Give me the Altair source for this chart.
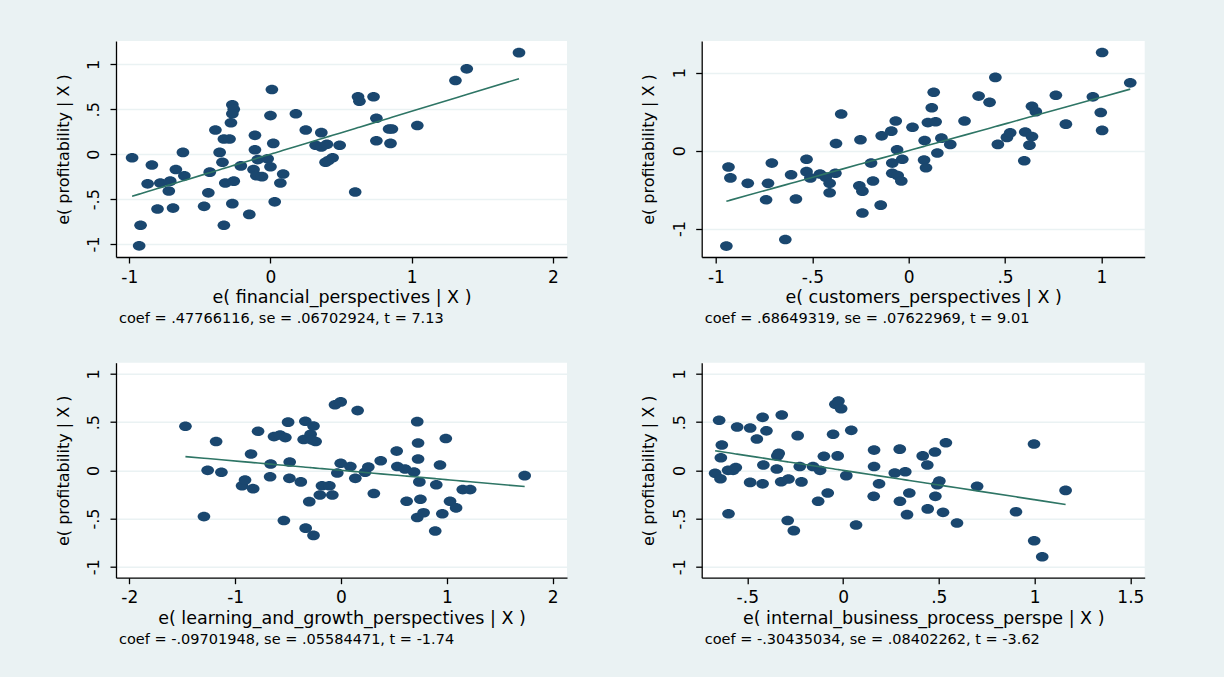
import altair as alt
import pandas as pd

# Added-variable plots: residual profitability against the residual of each
# balanced-scorecard perspective, with the partial regression line.

Y_TITLE = "e( profitability | X )"

FIN_X = [-0.98, -0.92, -0.93, -0.84, -0.87, -0.80, -0.78, -0.71, -0.72, -0.69, -0.67, -0.62, -0.61,
         -0.47, -0.44, -0.43, -0.39, -0.36, -0.34, -0.33, -0.29, -0.32, -0.33, -0.28, -0.27, -0.26,
         -0.27, -0.26, -0.27, -0.21, -0.15, -0.11, -0.11, -0.12, -0.10, -0.06, -0.09, -0.02, 0.00,
         0.01, 0.00, 0.02, 0.03, 0.07, 0.09, 0.18, 0.25, 0.32, 0.36, 0.36, 0.40, 0.39, 0.41, 0.44,
         0.49, 0.60, 0.62, 0.63, 0.73, 0.75, 0.75, 0.84, 0.86, 0.85, 1.04, 1.31, 1.39, 1.76]
FIN_Y = [-0.04, -0.79, -1.02, -0.12, -0.33, -0.61, -0.32, -0.30, -0.41, -0.60, -0.17, 0.02, -0.24,
         -0.58, -0.43, -0.20, 0.27, 0.02, -0.09, 0.17, 0.17, -0.32, -0.79, 0.35, 0.55, 0.50, 0.45,
         -0.30, -0.55, -0.13, -0.67, 0.21, 0.05, -0.17, -0.24, -0.25, -0.06, -0.05, -0.14, 0.72,
         0.43, 0.12, -0.53, -0.32, -0.22, 0.45, 0.27, 0.10, 0.24, 0.08, 0.11, -0.09, -0.07, -0.04,
         0.10, -0.42, 0.64, 0.59, 0.64, 0.40, 0.15, 0.28, 0.28, 0.12, 0.32, 0.82, 0.95, 1.13]

CUST_X = [-0.946, -0.935, -0.925, -0.835, -0.74, -0.73, -0.71, -0.64, -0.61, -0.585, -0.53, -0.53,
          -0.51, -0.46, -0.43, -0.41, -0.41, -0.38, -0.377, -0.35, -0.256, -0.24, -0.24, -0.25,
          -0.195, -0.185, -0.145, -0.14, -0.09, -0.085, -0.085, -0.057, -0.038, -0.067, -0.06,
          -0.033, 0.02, 0.08, 0.083, 0.09, 0.10, 0.12, 0.13, 0.14, 0.149, 0.17, 0.216, 0.29, 0.363,
          0.42, 0.45, 0.463, 0.51, 0.527, 0.60, 0.605, 0.627, 0.64, 0.64, 0.66, 0.764, 0.816, 0.956,
          0.997, 1.004, 1.004, 1.15]
CUST_Y = [-1.225, -0.21, -0.35, -0.42, -0.63, -0.42, -0.16, -1.14, -0.31, -0.62, -0.11, -0.27,
          -0.35, -0.30, -0.34, -0.42, -0.54, -0.29, 0.09, 0.47, -0.45, -0.52, -0.80, 0.14, -0.16,
          -0.39, -0.70, 0.19, 0.25, -0.16, -0.29, -0.32, -0.39, 0.38, 0.01, -0.11, 0.30, -0.12,
          0.13, -0.22, 0.36, 0.55, 0.75, 0.37, -0.03, 0.16, 0.08, 0.38, 0.70, 0.62, 0.94, 0.08,
          0.17, 0.23, -0.13, 0.24, 0.07, 0.18, 0.57, 0.50, 0.71, 0.34, 0.69, 0.49, 0.26, 1.26, 0.87]

LEARN_X = [-1.47, -1.295, -1.26, -1.18, -1.13, -0.935, -0.907, -0.85, -0.83, -0.784, -0.67, -0.665,
           -0.633, -0.576, -0.526, -0.54, -0.50, -0.485, -0.488, -0.38, -0.337, -0.334, -0.353,
           -0.30, -0.287, -0.26, -0.26, -0.24, -0.274, -0.20, -0.18, -0.11, -0.082, -0.057,
           -0.003, -0.035, -0.003, 0.088, 0.135, 0.157, 0.227, 0.258, 0.31, 0.375, 0.526, 0.532,
           0.605, 0.62, 0.69, 0.72, 0.728, 0.728, 0.74, 0.75, 0.72, 0.78, 0.89, 0.90, 0.935, 0.957,
           0.99, 1.03, 1.087, 1.15, 1.22, 1.735]
LEARN_Y = [0.457, -0.48, 0.00, 0.30, -0.02, -0.16, -0.10, 0.17, -0.19, 0.405, -0.066, 0.066, 0.35,
           0.367, 0.34, -0.52, 0.50, 0.087, -0.083, -0.12, 0.51, -0.60, 0.32, -0.325, 0.374, 0.46,
           -0.675, 0.30, 0.315, -0.256, -0.16, -0.16, -0.256, 0.68, 0.71, -0.028, 0.073, 0.04,
           -0.083, 0.62, -0.02, 0.035, -0.24, 0.10, 0.20, 0.04, 0.014, -0.32, -0.017, 0.505, 0.284,
           0.118, -0.12, -0.30, -0.49, -0.44, -0.63, -0.15, 0.055, -0.45, 0.33, -0.32, -0.39,
           -0.20, -0.20, -0.055]

INT_X = [-0.668, -0.647, -0.633, -0.638, -0.64, -0.598, -0.60, -0.574, -0.56, -0.553, -0.485,
         -0.485, -0.45, -0.42, -0.416, -0.42, -0.40, -0.346, -0.343, -0.336, -0.323, -0.32,
         -0.289, -0.285, -0.257, -0.237, -0.226, -0.217, -0.157, -0.13, -0.12, -0.10, -0.08,
         -0.052, -0.04, -0.024, -0.01, -0.028, 0.017, 0.043, 0.068, 0.162, 0.162, 0.16, 0.188,
         0.27, 0.296, 0.297, 0.325, 0.334, 0.346, 0.416, 0.44, 0.442, 0.48, 0.482, 0.492, 0.503,
         0.522, 0.537, 0.595, 0.70, 0.903, 0.997, 0.998, 1.04, 1.162]
INT_Y = [-0.03, 0.52, 0.263, 0.13, -0.087, -0.45, 0.00, 0.00, 0.03, 0.45, 0.44, -0.125, 0.325,
         0.55, 0.055, -0.14, 0.41, 0.014, 0.15, 0.176, -0.118, 0.574, -0.52, -0.09, -0.626, 0.36,
         0.04, -0.12, 0.04, -0.32, 0.00, 0.145, -0.235, 0.374, 0.685, 0.72, 0.64, 0.15, -0.055,
         0.415, -0.567, 0.21, 0.04, -0.27, -0.14, -0.028, 0.22, -0.32, -0.014, -0.46, -0.235,
         0.15, 0.055, -0.40, 0.19, -0.27, -0.15, -0.11, -0.436, 0.287, -0.547, -0.166, -0.43,
         0.273, -0.73, -0.896, -0.208]

X_TITLES = ["e( financial_perspectives | X )", "e( customers_perspectives | X )",
            "e( learning_and_growth_perspectives | X )", "e( internal_business_process_perspe | X )"]
COEFS = [0.47766116, 0.68649319, -0.09701948, -0.30435034]
SES = [0.06702924, 0.07622969, 0.05584471, 0.08402262]
TSTATS = [7.13, 9.01, -1.74, -3.62]

X_TICKS = [[-1, 0, 1, 2], [-1, -0.5, 0, 0.5, 1], [-2, -1, 0, 1, 2], [-0.5, 0, 0.5, 1, 1.5]]
X_TICK_LABELS = [["-1", "0", "1", "2"], ["-1", "-.5", "0", ".5", "1"],
                 ["-2", "-1", "0", "1", "2"], ["-.5", "0", ".5", "1", "1.5"]]
Y_TICKS = [[-1, -0.5, 0, 0.5, 1], [-1, 0, 1], [-1, -0.5, 0, 0.5, 1], [-1, -0.5, 0, 0.5, 1]]
Y_TICK_LABELS = [["-1", "-.5", "0", ".5", "1"], ["-1", "0", "1"],
                 ["-1", "-.5", "0", ".5", "1"], ["-1", "-.5", "0", ".5", "1"]]

X_DOMAINS = [[-1.094, 2.10], [-1.074, 1.225], [-2.126, 2.135], [-0.738, 1.575]]
Y_DOMAINS = [[-1.144, 1.26], [-1.365, 1.407], [-1.114, 1.117], [-1.114, 1.117]]
WIDTHS = [451, 443, 451, 443]
HEIGHTS = [216, 216, 215, 215]

NAVY = "#1a476f"
FIT_COLOR = "#2e7565"
BACKGROUND = "#eaf2f3"
FONT = "DejaVu Sans"
# flattened ellipse drawn inside the unit square of a custom symbol
ELLIPSE = "M -1 0 A 1 0.76 0 1 0 1 0 A 1 0.76 0 1 0 -1 0 Z"


def stata_num(v, digits):
    s = f"{v:.{digits}f}"
    if s.startswith("0."):
        s = s[1:]
    elif s.startswith("-0."):
        s = "-" + s[2:]
    return s


def label_expr(values, labels):
    expr = "''"
    for v, lab in reversed(list(zip(values, labels))):
        expr = f"datum.value == {v} ? '{lab}' : ({expr})"
    return expr


def panel(i, xs, ys):
    df = pd.DataFrame({"x": xs, "y": ys})
    w, h = WIDTHS[i], HEIGHTS[i]
    note = (f"coef = {stata_num(COEFS[i], 8)}, se = {stata_num(SES[i], 8)}, "
            f"t = {stata_num(TSTATS[i], 2)}")
    x_enc = alt.X(
        "x:Q",
        scale=alt.Scale(domain=X_DOMAINS[i], nice=False, zero=False),
        axis=alt.Axis(
            values=X_TICKS[i], labelExpr=label_expr(X_TICKS[i], X_TICK_LABELS[i]),
            title=X_TITLES[i], grid=False, tickSize=6, labelPadding=19,
            labelBaseline="alphabetic", labelFontSize=17, labelOverlap=False, labelFlush=False,
            titleFontSize=17.5, titleFontWeight="normal", titleX=w / 2, titleY=45.5,
            titleBaseline="alphabetic", titleAlign="center",
        ),
    )
    y_enc = alt.Y(
        "y:Q",
        scale=alt.Scale(domain=Y_DOMAINS[i], nice=False, zero=False),
        axis=alt.Axis(
            values=Y_TICKS[i], labelExpr=label_expr(Y_TICKS[i], Y_TICK_LABELS[i]),
            title=Y_TITLE, grid=True, gridColor=BACKGROUND, gridWidth=1.5, tickSize=6,
            labelAngle=270, labelAlign="center", labelBaseline="alphabetic", labelPadding=11.5,
            labelFontSize=16, labelOverlap=False, labelFlush=False,
            titleFontSize=16, titleFontWeight="normal", titleAngle=270, titleX=-48, titleY=h / 2,
            titleBaseline="alphabetic", titleAlign="center",
        ),
    )
    base = alt.Chart(df)
    points = base.mark_point(shape=ELLIPSE, filled=True, size=160, color=NAVY,
                             opacity=1, strokeWidth=0).encode(x=x_enc, y=y_enc)
    fit = base.transform_calculate(fit=f"{COEFS[i]} * datum.x").mark_line(
        color=FIT_COLOR, strokeWidth=1.6
    ).encode(x="x:Q", y="fit:Q")
    return alt.layer(points, fit).properties(
        width=w, height=h,
        title=alt.TitleParams(note, orient="bottom", anchor="start", frame="group",
                              offset=6, dx=3, fontSize=14.5, fontWeight="normal", font=FONT,
                              color="#000000"),
    )


panels = [panel(0, FIN_X, FIN_Y), panel(1, CUST_X, CUST_Y),
          panel(2, LEARN_X, LEARN_Y), panel(3, INT_X, INT_Y)]

chart = alt.concat(
    *panels, columns=2, spacing={"row": 105.7, "column": 134.7}, bounds="flush", align="each"
).properties(
    autosize=alt.AutoSizeParams(type="none"),
    padding={"left": 116, "top": 41, "right": 1108, "bottom": 636},
    background=BACKGROUND,
).configure(font=FONT).configure_view(fill="white", strokeWidth=0).configure_axis(
    domainColor="#000000", tickColor="#000000", labelColor="#000000", titleColor="#000000",
    domainWidth=1.3, tickWidth=1.3, labelFont=FONT, titleFont=FONT,
)

chart.save("out.html", embed_options={"renderer": "svg", "actions": False})
